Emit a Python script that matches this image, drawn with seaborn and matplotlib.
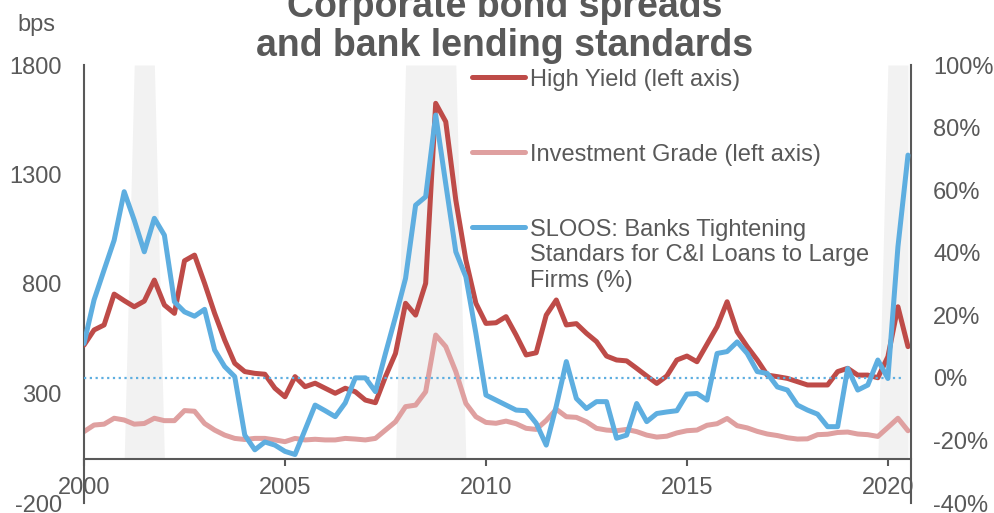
import numpy as np
import pandas as pd
import seaborn as sns
import matplotlib.pyplot as plt
from matplotlib.lines import Line2D

# quarterly data 2000Q1 - 2020Q3
quarters = pd.period_range("2000Q1", "2020Q3", freq="Q").astype(str).tolist()

high_yield = [521, 590, 613, 754, 724, 696, 722, 818, 704, 666,
              906, 932, 803, 666, 544, 438, 400, 392, 388, 324,
              285, 377, 331, 347, 324, 301, 324, 308, 270, 258,
              377, 483, 712, 658, 803, 1625, 1541, 1183, 910, 712,
              620, 623, 651, 567, 476, 486, 658, 727, 613, 619,
              575, 537, 471, 453, 449, 415, 380, 346, 380, 453,
              471, 445, 525, 605, 719, 582, 514, 453, 384, 377,
              369, 354, 339, 339, 339, 400, 415, 384, 384, 372,
              468, 696, 514]

inv_grade = [126, 156, 160, 187, 179, 160, 163, 187, 176, 176,
             222, 219, 163, 133, 110, 95, 90, 95, 95, 88,
             80, 95, 88, 91, 88, 88, 95, 92, 88, 95,
             133, 171, 240, 247, 308, 567, 514, 400, 255, 194,
             168, 164, 174, 162, 141, 136, 177, 228, 194, 191,
             171, 141, 133, 130, 136, 126, 110, 101, 105, 120,
             130, 133, 155, 162, 186, 153, 143, 127, 115, 108,
             98, 92, 93, 112, 114, 122, 124, 115, 112, 104,
             145, 187, 130]

sloos = [11.0, 24.9, 34.5, 44.0, 59.5, 50.4, 40.3, 51.0, 45.6, 24.3,
         21.1, 19.7, 21.9, 8.9, 3.6, 0.4, -18.3, -23.0, -20.5, -21.5,
         -23.5, -24.5, -16.6, -8.7, -10.5, -12.4, -8.0, 0.0, 0.0, -4.4,
         7.8, 19.5, 31.8, 55.2, 57.9, 84.0, 62.0, 40.3, 32.3, 14.2,
         -5.5, -7.1, -8.7, -10.3, -10.5, -14.5, -21.5, -9.0, 5.2, -6.6,
         -9.8, -7.6, -7.6, -19.3, -18.3, -8.2, -14.0, -11.4, -10.9, -10.5,
         -5.2, -5.0, -7.1, 7.8, 8.4, 11.5, 7.8, 2.0, 1.4, -2.9,
         -3.9, -8.7, -10.3, -11.6, -15.6, -15.6, 3.0, -3.9, -2.3, 5.7,
         -0.2, 41.9, 71.2]

# NBER recession quarters (1 = recession)
recession = [0] * 83
for q in ["2001Q2", "2001Q3", "2001Q4",
          "2008Q1", "2008Q2", "2008Q3", "2008Q4", "2009Q1", "2009Q2",
          "2020Q1", "2020Q2", "2020Q3"]:
    recession[quarters.index(q)] = 1

year_ticks = ["2000", "2005", "2010", "2015", "2020"]

df = pd.DataFrame({"q": quarters, "hy": high_yield, "ig": inv_grade,
                   "sloos": sloos, "rec": recession})
df["x"] = np.arange(len(df))

RED = "#BE4B48"
PINK = "#DFA0A0"
BLUE = "#5EAEE0"
GREY = "#595959"

sns.set_theme(style="white")
plt.rcParams["font.family"] = ["Liberation Sans", "DejaVu Sans"]
plt.rcParams["axes.unicode_minus"] = False

fig = plt.figure(figsize=(9.94, 5.13), dpi=100)
ax = fig.add_axes([84 / 994, 10 / 513, 827 / 994, 438 / 513])

# recession shading
ax.fill_between(df["x"], 0, df["rec"] * 1800, color="#F2F2F2", lw=0, zorder=0)

sns.lineplot(data=df, x="x", y="ig", color=PINK, lw=3.6, ax=ax, zorder=2)
sns.lineplot(data=df, x="x", y="hy", color=RED, lw=3.6, ax=ax, zorder=3)

ax.set_ylim(-200, 1800)
ax.set_yticks(range(-200, 1801, 500))
ax.set_xlim(0, 82.3)
ax.set_xticks([quarters.index(y + "Q1") for y in year_ticks])
ax.set_xticklabels(year_ticks)
ax.set_xlabel("")
ax.set_ylabel("")

ax2 = ax.twinx()
ax2.axhline(0, color=BLUE, lw=1.6, ls=(0, (1, 1.6)), xmax=0.992, zorder=1)
sns.lineplot(data=df, x="x", y="sloos", color=BLUE, lw=3.6, ax=ax2, zorder=4)
ax2.set_ylim(-40, 100)
ax2.set_yticks(range(-40, 101, 20))
ax2.set_yticklabels([f"{v}%" for v in range(-40, 101, 20)])
ax2.set_ylabel("")
ax2.set_xlim(0, 82.3)

for a in (ax, ax2):
    a.spines["top"].set_visible(False)
    for s in ("left", "right", "bottom"):
        a.spines[s].set_color(GREY)
        a.spines[s].set_linewidth(1.5)
ax.spines["bottom"].set_position(("data", 0))
ax.spines["right"].set_visible(False)
ax2.spines["left"].set_visible(False)
ax2.spines["bottom"].set_visible(False)

ax.tick_params(axis="y", length=0, pad=16, labelsize=17, labelcolor=GREY)
ax2.tick_params(axis="y", length=0, pad=16, labelsize=17, labelcolor=GREY)
ax.tick_params(axis="x", length=5, width=1.5, color=GREY, direction="out",
               pad=8, labelsize=17, labelcolor=GREY, bottom=True)

fig.text(0.5075, 0.875, "Corporate bond spreads\nand bank lending standards",
         ha="center", va="bottom", fontsize=27, fontweight="bold", color=GREY,
         linespacing=1.1)
fig.text(36 / 994, 1 - 31 / 513, "bps", ha="center", va="baseline",
         fontsize=17, color=GREY)

# legend drawn in figure coordinates (handle aligned with first text line)
entries = [("High Yield (left axis)", RED, 77),
           ("Investment Grade (left axis)", PINK, 152),
           ("SLOOS: Banks Tightening\nStandars for C&I Loans to Large\nFirms (%)", BLUE, 227)]
for label, col, ypx in entries:
    yf = 1 - ypx / 513
    fig.add_artist(Line2D([472 / 994, 525 / 994], [yf, yf], color=col, lw=3.6,
                          solid_capstyle="round", transform=fig.transFigure))
    fig.text(530 / 994, 1 - (ypx - 8) / 513, label, ha="left", va="top",
             fontsize=17, color=GREY, linespacing=1.2)

fig.savefig("out.png", dpi=100)
